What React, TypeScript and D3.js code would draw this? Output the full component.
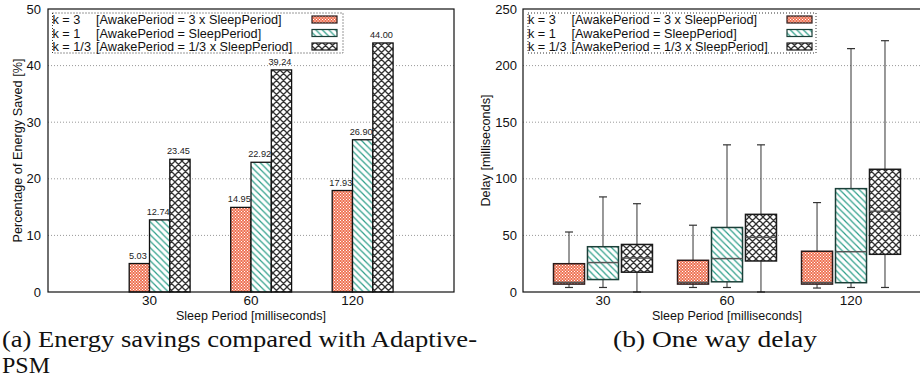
import React from "react";
import * as d3 from "d3";

const categories = ["30", "60", "120"];
const seriesLabels = [
  ["k = 3", "[AwakePeriod = 3 x SleepPeriod]"],
  ["k = 1", "[AwakePeriod = SleepPeriod]"],
  ["k = 1/3", "[AwakePeriod = 1/3 x SleepPeriod]"],
];
const energyK3 = [5.03, 14.95, 17.93];
const energyK1 = [12.74, 22.92, 26.9];
const energyK13 = [23.45, 39.24, 44.0];
// [min, q1, median, q3, max]
const delayK3 = [
  [4, 7, 8.5, 25, 53],
  [4, 7, 8.5, 28, 59],
  [3.5, 7, 8.3, 36, 79],
];
const delayK1 = [
  [4, 11, 26, 40, 84],
  [4, 9, 29.5, 57, 130],
  [4, 8.2, 35.6, 91.3, 215],
];
const delayK13 = [
  [0, 17.5, 30, 42, 78],
  [0, 27.4, 48.3, 68.6, 130],
  [4, 33.3, 71.3, 108.4, 222],
];
const energyTicks = [0, 10, 20, 30, 40, 50];
const delayTicks = [0, 50, 100, 150, 200, 250];

const SANS = "'Liberation Sans', Arial, Helvetica, sans-serif";
const SERIF = "'Liberation Serif', 'Times New Roman', serif";
const fills = ["url(#pOrange)", "url(#pTeal)", "url(#pCross)"];
const strokes = ["#2a1a1a", "#1b3f38", "#1a1a1a"];

function Legend({ x0, y0, w, swX }: { x0: number; y0: number; w: number; swX: number }) {
  return (
    <g>
      <rect x={x0} y={y0} width={w} height={40} fill="white" stroke="#333" strokeDasharray="1,2" strokeWidth={1} />
      {seriesLabels.map((s, i) => (
        <g key={i}>
          <text x={x0} y={y0 + 11 + i * 13.5} fontSize={12.7} fontFamily={SANS} fill="#111">{s[0]}</text>
          <text x={x0 + 43.5} y={y0 + 11 + i * 13.5} fontSize={12.7} fontFamily={SANS} fill="#111">{s[1]}</text>
          <rect x={swX} y={y0 + 3 + i * 13.5} width={25} height={7} fill={fills[i]} stroke={strokes[i]} strokeWidth={1.2} />
        </g>
      ))}
    </g>
  );
}

export default function App() {
  const top = 9, bottom = 292;
  // left chart
  const xL = d3.scaleLinear().domain([0, 4]).range([48, 454]);
  const yL = d3.scaleLinear().domain([0, 50]).range([bottom, top]);
  const bw = 0.2;
  const energy = [energyK3, energyK1, energyK13];
  // right chart
  const xR = d3.scaleLinear().domain([0.355, 3.645]).range([523, 931]);
  const yR = d3.scaleLinear().domain([0, 250]).range([bottom, top]);
  const delays = [delayK3, delayK1, delayK13];
  const off = 0.274, boxW = 0.25;

  return (
    <svg width={920} height={387} style={{ position: "absolute", left: 0, top: 0, background: "white" }}>
      <defs>
        <pattern id="pOrange" patternUnits="userSpaceOnUse" width={3} height={3}>
          <rect width={3} height={3} fill="#ec5b37" />
          <circle cx={0} cy={0} r={0.75} fill="white" />
          <circle cx={3} cy={0} r={0.75} fill="white" />
          <circle cx={0} cy={3} r={0.75} fill="white" />
          <circle cx={3} cy={3} r={0.75} fill="white" />
          <circle cx={1.5} cy={1.5} r={0.75} fill="white" />
        </pattern>
        <pattern id="pTeal" patternUnits="userSpaceOnUse" width={6.5} height={6.5}>
          <rect width={6.5} height={6.5} fill="white" />
          <path d="M0,0 L6.5,6.5 M-1,5.5 L1,7.5 M5.5,-1 L7.5,1" stroke="#2f9f8a" strokeWidth={1.2} />
        </pattern>
        <pattern id="pCross" patternUnits="userSpaceOnUse" width={7} height={7}>
          <rect width={7} height={7} fill="white" />
          <path d="M0,0 L7,7 M-1,6 L1,8 M6,-1 L8,1 M7,0 L0,7 M-1,1 L1,-1 M6,8 L8,6" stroke="#333" strokeWidth={1.3} />
        </pattern>
      </defs>

      {/* ===== Left chart ===== */}
      {energyTicks.slice(1, -1).map((t) => (
        <line key={t} x1={48} x2={454} y1={yL(t)} y2={yL(t)} stroke="#999" strokeDasharray="1,2" />
      ))}
      {energyTicks.map((t) => (
        <text key={t} x={41} y={yL(t) + 4.5} textAnchor="end" fontSize={13} fontFamily={SANS} fill="#111">{t}</text>
      ))}
      {categories.map((c, ci) =>
        energy.map((s, si) => {
          const x0 = xL(ci + 1 + (si - 1) * bw);
          const x1 = xL(ci + 1 + si * bw);
          const v = s[ci];
          return (
            <g key={c + si}>
              <rect x={x0} y={yL(v)} width={x1 - x0} height={yL(0) - yL(v)} fill={fills[si]} stroke="#111" strokeWidth={1.3} />
              <text x={(x0 + x1) / 2 - 1.5} y={yL(v) - 5} textAnchor="middle" fontSize={9.2} fontFamily={SANS} fill="#222">{v.toFixed(2)}</text>
            </g>
          );
        })
      )}
      {categories.map((c, ci) => (
        <text key={c} x={xL(ci + 1)} y={305} textAnchor="middle" fontSize={13.5} fontFamily={SANS} fill="#111">{c}</text>
      ))}
      <rect x={48} y={top} width={406} height={bottom - top} fill="none" stroke="#111" strokeWidth={1.2} />
      <Legend x0={52.5} y0={13} w={290.5} swX={312} />
      <text x={251} y={320} textAnchor="middle" fontSize={12.5} fontFamily={SANS} fill="#111">Sleep Period [milliseconds]</text>
      <text transform={`translate(22,150.5) rotate(-90)`} textAnchor="middle" fontSize={12.7} fontFamily={SANS} fill="#111">Percentage of Energy Saved [%]</text>

      {/* ===== Right chart ===== */}
      {delayTicks.slice(1, -1).map((t) => (
        <line key={t} x1={523} x2={931} y1={yR(t)} y2={yR(t)} stroke="#999" strokeDasharray="1,2" />
      ))}
      {delayTicks.map((t) => (
        <text key={t} x={517} y={yR(t) + 4.5} textAnchor="end" fontSize={13} fontFamily={SANS} fill="#111">{t}</text>
      ))}
      {categories.map((c, ci) =>
        delays.map((s, si) => {
          const [mn, q1, md, q3, mx] = s[ci];
          const cx = xR(ci + 1 + (si - 1) * off);
          const hw = (xR(boxW) - xR(0)) / 2;
          return (
            <g key={c + si}>
              <line x1={cx} x2={cx} y1={yR(q3)} y2={yR(mx)} stroke="#333" />
              <line x1={cx} x2={cx} y1={yR(q1)} y2={yR(mn)} stroke="#333" />
              <line x1={cx - 4} x2={cx + 4} y1={yR(mx)} y2={yR(mx)} stroke="#333" strokeWidth={1.2} />
              <line x1={cx - 4} x2={cx + 4} y1={yR(mn)} y2={yR(mn)} stroke="#333" strokeWidth={1.2} />
              <rect x={cx - hw} y={yR(q3)} width={hw * 2} height={yR(q1) - yR(q3)} fill={fills[si]} stroke={strokes[si]} strokeWidth={1.5} />
              <line x1={cx - hw} x2={cx + hw} y1={yR(md)} y2={yR(md)} stroke="#555" strokeWidth={1.5} />
            </g>
          );
        })
      )}
      {categories.map((c, ci) => (
        <text key={c} x={xR(ci + 1)} y={305} textAnchor="middle" fontSize={13.5} fontFamily={SANS} fill="#111">{c}</text>
      ))}
      <rect x={523} y={top} width={408} height={bottom - top} fill="none" stroke="#111" strokeWidth={1.2} />
      <Legend x0={528} y0={13} w={288} swX={787} />
      <text x={727} y={320} textAnchor="middle" fontSize={12.5} fontFamily={SANS} fill="#111">Sleep Period [milliseconds]</text>
      <text transform={`translate(490,150.5) rotate(-90)`} textAnchor="middle" fontSize={12.7} fontFamily={SANS} fill="#111">Delay [milliseconds]</text>

      {/* ===== Captions ===== */}
      <text x={2} y={347} fontSize={23} fontFamily={SERIF} fill="#111" textLength={475} lengthAdjust="spacingAndGlyphs">(a) Energy savings compared with Adaptive-</text>
      <text x={2} y={373} fontSize={23} fontFamily={SERIF} fill="#111" textLength={48} lengthAdjust="spacingAndGlyphs">PSM</text>
      <text x={613} y={347} fontSize={23} fontFamily={SERIF} fill="#111" textLength={204} lengthAdjust="spacingAndGlyphs">(b) One way delay</text>
    </svg>
  );
}
